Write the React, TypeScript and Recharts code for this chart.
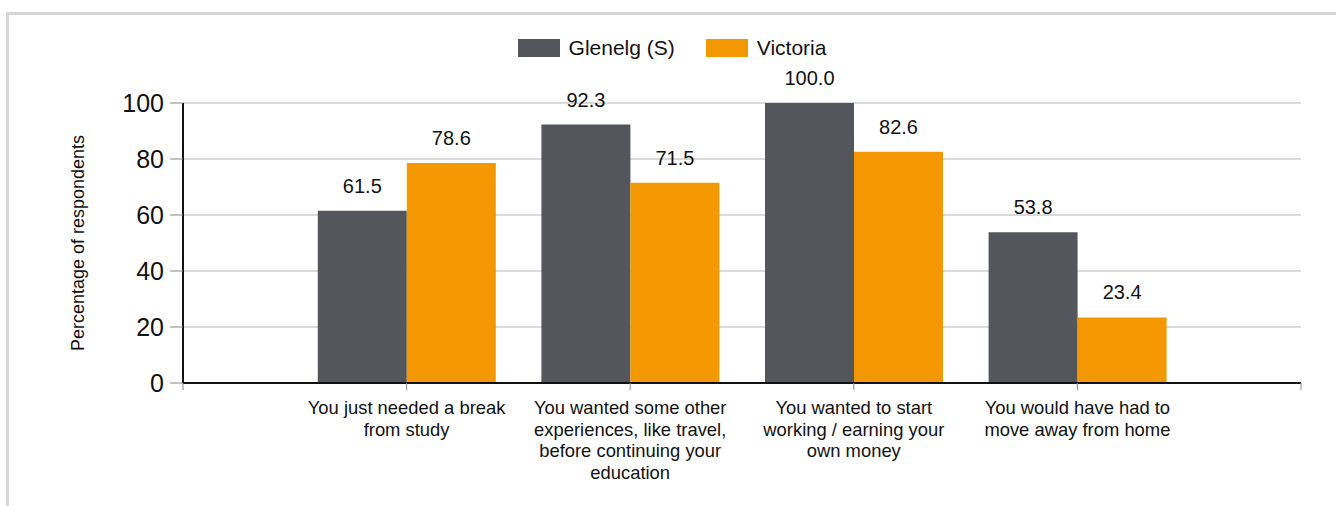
import React from 'react';
import { BarChart, Bar, XAxis, YAxis, CartesianGrid, Legend, LabelList, Label } from 'recharts';

const FONT = '"Liberation Sans", Arial, Helvetica, sans-serif';

const categoryLines: string[][] = [
  ['You just needed a break', 'from study'],
  ['You wanted some other', 'experiences, like travel,', 'before continuing your', 'education'],
  ['You wanted to start', 'working / earning your', 'own money'],
  ['You would have had to', 'move away from home'],
];
const categoryPositions = [1, 2, 3, 4];
const glenelgValues = [61.5, 92.3, 100.0, 53.8];
const victoriaValues = [78.6, 71.5, 82.6, 23.4];
const seriesNames = ['Glenelg (S)', 'Victoria'];
const seriesColors = ['#53565a', '#f39800'];
const yTicks = [0, 20, 40, 60, 80, 100];
const xTicks = [0, 1, 2, 3, 4, 5];
const yAxisTitle = 'Percentage of respondents';

const data = categoryPositions.map((pos, i) => ({
  pos,
  glenelg: glenelgValues[i],
  victoria: victoriaValues[i],
}));

const XTick = (props: any) => {
  const { x, y, payload } = props;
  const idx = categoryPositions.indexOf(payload.value);
  if (idx < 0) return null;
  const lines = categoryLines[idx];
  return (
    <text x={x} y={y} textAnchor="middle" fontSize={18.4} fill="#111" fontFamily={FONT}>
      {lines.map((l, i) => (
        <tspan key={i} x={x} dy={i === 0 ? 22 : 21.7}>
          {l}
        </tspan>
      ))}
    </text>
  );
};

const LegendContent = () => (
  <div
    style={{
      height: 64,
      display: 'flex',
      justifyContent: 'center',
      alignItems: 'flex-start',
      fontFamily: FONT,
      fontSize: 21,
      color: '#111',
    }}
  >
    {seriesNames.map((n, i) => (
      <div key={n} style={{ display: 'flex', alignItems: 'center', marginLeft: i ? 31 : 0 }}>
        <div style={{ width: 42, height: 18, background: seriesColors[i] }} />
        <span style={{ marginLeft: 9, lineHeight: '18px' }}>{n}</span>
      </div>
    ))}
  </div>
);

export default function App() {
  return (
    <div style={{ fontFamily: FONT }}>
      <div
        style={{
          position: 'absolute',
          left: 6,
          top: 12,
          width: 1330,
          height: 494,
          boxSizing: 'border-box',
          borderTop: '3px solid #d6d6d6',
          borderLeft: '3px solid #d6d6d6',
          pointerEvents: 'none',
        }}
      />
      <BarChart
        width={1328}
        height={498}
        data={data}
        margin={{ top: 31, right: 35, left: 0, bottom: 0 }}
        barGap={0}
      >
        <CartesianGrid vertical={false} stroke="#d9d9d9" strokeWidth={2} />
        <Legend
          verticalAlign="top"
          align="center"
          content={<LegendContent />}
          wrapperStyle={{ left: 0, width: 1328 }}
        />
        <XAxis
          dataKey="pos"
          type="number"
          domain={[0, 5]}
          ticks={xTicks}
          interval={0}
          height={123}
          tickSize={7}
          tickMargin={2}
          axisLine={{ stroke: '#111', strokeWidth: 2 }}
          tickLine={{ stroke: '#888', strokeWidth: 1 }}
          tick={<XTick />}
        />
        <YAxis
          type="number"
          domain={[0, 100]}
          ticks={yTicks}
          interval={0}
          width={175}
          tickSize={13}
          tickMargin={6}
          axisLine={{ stroke: '#111', strokeWidth: 2 }}
          tickLine={{ stroke: '#888', strokeWidth: 1 }}
          tick={{ fontSize: 25, fill: '#111', fontFamily: FONT }}
        >
          <Label
            value={yAxisTitle}
            angle={-90}
            position="center"
            dx={-17.5}
            style={{ fontSize: 18, fill: '#111', fontFamily: FONT, textAnchor: 'middle' }}
          />
        </YAxis>
        <Bar dataKey="glenelg" name={seriesNames[0]} fill={seriesColors[0]} barSize={89} isAnimationActive={false}>
          <LabelList
            dataKey="glenelg"
            position="top"
            offset={18}
            formatter={(v: any) => Number(v).toFixed(1)}
            style={{ fontSize: 20, fill: '#111', fontFamily: FONT }}
          />
        </Bar>
        <Bar dataKey="victoria" name={seriesNames[1]} fill={seriesColors[1]} barSize={89} isAnimationActive={false}>
          <LabelList
            dataKey="victoria"
            position="top"
            offset={18}
            formatter={(v: any) => Number(v).toFixed(1)}
            style={{ fontSize: 20, fill: '#111', fontFamily: FONT }}
          />
        </Bar>
      </BarChart>
    </div>
  );
}
